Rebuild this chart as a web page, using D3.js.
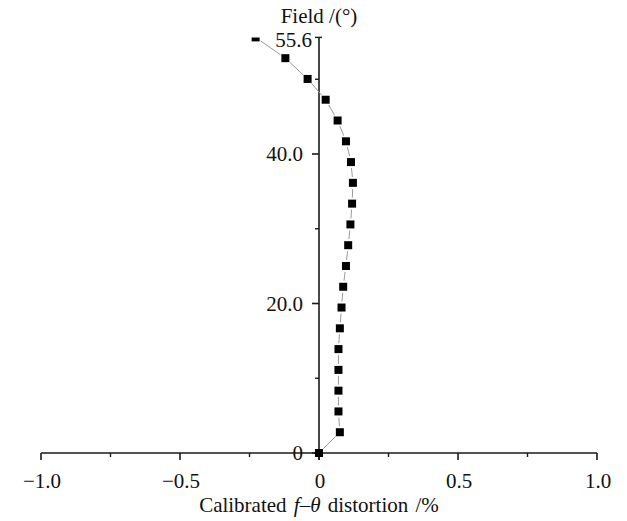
<!DOCTYPE html>
<html>
<head>
<meta charset="utf-8">
<script src="https://cdn.jsdelivr.net/npm/d3@7"></script>
<style>
  html, body { margin: 0; padding: 0; background: #fff; }
  svg { display: block; }
  text { font-family: "Liberation Serif", "Times New Roman", serif; fill: #111; }
</style>
</head>
<body>
<svg id="chart" width="627" height="521"></svg>
<script>
// ---- data ----
const fieldDeg = [0, 2.78, 5.56, 8.34, 11.12, 13.9, 16.68, 19.46, 22.24, 25.02, 27.8,
                  30.58, 33.36, 36.14, 38.92, 41.7, 44.48, 47.26, 50.04, 52.82, 55.6];
const distortion = [0, 0.075, 0.070, 0.070, 0.070, 0.070, 0.075, 0.081, 0.087, 0.097, 0.105,
                    0.113, 0.119, 0.122, 0.115, 0.097, 0.067, 0.024, -0.041, -0.121, -0.228];
const xTicks = [-1.0, -0.5, 0, 0.5, 1.0];
const xTickLabels = ["\u22121.0", "\u22120.5", "0", "0.5", "1.0"];
const xMinorTicks = [-0.75, -0.25, 0.25, 0.75];
const yTicks = [0, 20, 40, 55.6];
const yTickLabels = ["0", "20.0", "40.0", "55.6"];
const yMinorTicks = [10, 30, 50];
const xTitle = "distortion /%";
const yTitle = "Field /(\u00b0)";

// ---- layout ----
const svg = d3.select("#chart");
const x = d3.scaleLinear().domain([-1, 1]).range([41, 597]);
const y = d3.scaleLinear().domain([0, 40]).range([453, 154]);
const x0 = x(0), y0 = y(0);
const yTop = y(55.6);
const fs = 21;

svg.append("clipPath").attr("id", "clip")
  .append("rect").attr("x", 0).attr("y", yTop).attr("width", 627).attr("height", 521 - yTop);

const axisColor = "#1a1a1a";

// x axis
const gx = svg.append("g");
gx.append("line").attr("x1", x(-1)).attr("x2", x(1)).attr("y1", y0).attr("y2", y0)
  .attr("stroke", axisColor).attr("stroke-width", 1.6);
gx.selectAll(".xmaj").data(xTicks).join("line")
  .attr("x1", d => x(d)).attr("x2", d => x(d)).attr("y1", y0).attr("y2", y0 + 7)
  .attr("stroke", axisColor).attr("stroke-width", 1.6);
gx.selectAll(".xmin").data(xMinorTicks).join("line")
  .attr("x1", d => x(d)).attr("x2", d => x(d)).attr("y1", y0).attr("y2", y0 + 4)
  .attr("stroke", axisColor).attr("stroke-width", 1.4);
gx.selectAll(".xlab").data(xTicks).join("text")
  .attr("x", d => x(d) + 1).attr("y", 488).attr("text-anchor", "middle")
  .attr("font-size", fs).text((d, i) => xTickLabels[i]);

const xt = svg.append("text").attr("x", x0).attr("y", 512).attr("text-anchor", "middle")
  .attr("font-size", fs).attr("word-spacing", 2);
xt.append("tspan").text("Calibrated ");
xt.append("tspan").attr("font-style", "italic").text("f");
xt.append("tspan").text("\u2013");
xt.append("tspan").attr("font-style", "italic").text("\u03b8");
xt.append("tspan").text(" " + xTitle);

// y axis
const gy = svg.append("g");
gy.append("line").attr("x1", x0).attr("x2", x0).attr("y1", yTop).attr("y2", y0 + 7)
  .attr("stroke", axisColor).attr("stroke-width", 1.6);
gy.selectAll(".ymaj").data(yTicks.slice(0, 3)).join("line")
  .attr("x1", x0 - 7).attr("x2", x0).attr("y1", d => y(d)).attr("y2", d => y(d))
  .attr("stroke", axisColor).attr("stroke-width", 1.6);
gy.append("line").attr("x1", x0 - 4).attr("x2", x0 + 3).attr("y1", yTop).attr("y2", yTop)
  .attr("stroke", axisColor).attr("stroke-width", 1.4);
gy.selectAll(".ymin").data(yMinorTicks).join("line")
  .attr("x1", x0 - 4).attr("x2", x0).attr("y1", d => y(d)).attr("y2", d => y(d))
  .attr("stroke", axisColor).attr("stroke-width", 1.4);
gy.selectAll(".ylab").data(yTicks).join("text")
  .attr("x", (d, i) => i === 3 ? x0 - 7 : x0 - 16)
  .attr("y", (d, i) => i === 3 ? y(d) + 10 : y(d) + 7)
  .attr("text-anchor", "end").attr("font-size", fs)
  .text((d, i) => yTickLabels[i]);

svg.append("text").attr("x", x0).attr("y", 23).attr("text-anchor", "middle")
  .attr("font-size", fs).text(yTitle);

// data line with gaps around markers
const pts = fieldDeg.map((f, i) => [x(distortion[i]), y(f)]);
const gap = 6;
const segs = [];
for (let i = 0; i < pts.length - 1; i++) {
  const [ax, ay] = pts[i], [bx, by] = pts[i + 1];
  const L = Math.hypot(bx - ax, by - ay);
  const ux = (bx - ax) / L, uy = (by - ay) / L;
  const g = Math.min(gap, L / 2 - 1);
  segs.push([ax + ux * g, ay + uy * g, bx - ux * g, by - uy * g]);
}
const gd = svg.append("g").attr("clip-path", "url(#clip)");
gd.selectAll(".seg").data(segs).join("line")
  .attr("x1", d => d[0]).attr("y1", d => d[1]).attr("x2", d => d[2]).attr("y2", d => d[3])
  .attr("stroke", "#999").attr("stroke-width", 1);
const ms = 8;
gd.selectAll(".pt").data(pts).join("rect")
  .attr("x", d => d[0] - ms / 2).attr("y", d => d[1] - ms / 2)
  .attr("width", ms).attr("height", ms).attr("fill", "#000");
</script>
</body>
</html>
